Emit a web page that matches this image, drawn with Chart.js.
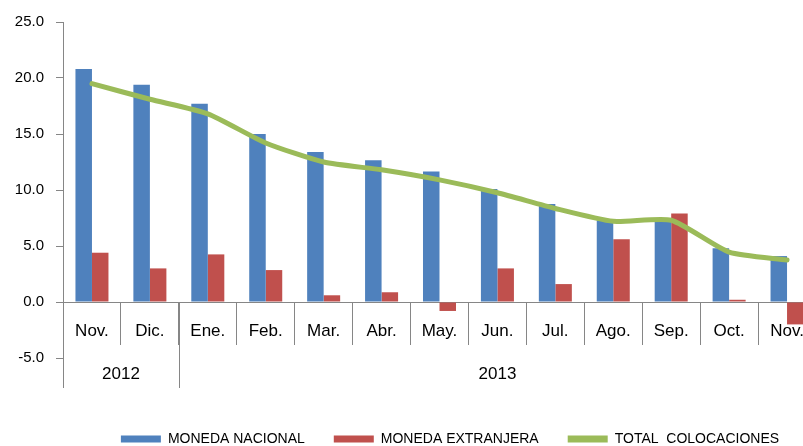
<!DOCTYPE html>
<html>
<head>
<meta charset="utf-8">
<script src="https://cdn.jsdelivr.net/npm/chart.js@4.4.1/dist/chart.umd.min.js"></script>
<style>
  html, body { margin: 0; padding: 0; overflow: hidden; background: #fff; }
  #wrap { position: absolute; left: 0; top: 0; width: 816px; height: 446px; }
  canvas { display: block; }
</style>
</head>
<body>
<div id="wrap"><canvas id="c" width="816" height="446"></canvas></div>
<script>
const months = ['Nov.','Dic.','Ene.','Feb.','Mar.','Abr.','May.','Jun.','Jul.','Ago.','Sep.','Oct.','Nov.'];
const years = ['2012','2013'];
const yearSpans = [2, 11];
const monedaNacional = [20.8, 19.4, 17.7, 15.0, 13.4, 12.65, 11.65, 10.1, 8.75, 7.3, 7.2, 4.8, 4.1];
const monedaExtranjera = [4.4, 3.0, 4.25, 2.85, 0.6, 0.87, -0.8, 3.0, 1.6, 5.6, 7.9, 0.2, -2.0];
const totalColocaciones = [19.5, 18.1, 16.8, 14.2, 12.5, 11.8, 10.9, 9.75, 8.35, 7.2, 7.3, 4.45, 3.75];
const yTicks = [-5, 0, 5, 10, 15, 20, 25];

Chart.defaults.font.family = "'Liberation Sans', Arial, sans-serif";
Chart.defaults.color = '#000';

const axisGray = '#868686';

const yearRow = {
  id: 'yearRow',
  afterDraw(chart) {
    const x = chart.scales.x, y = chart.scales.y;
    const ctx = chart.ctx;
    const half = (x.getPixelForValue(1) - x.getPixelForValue(0)) / 2;
    const y0 = y.getPixelForValue(0);
    const yBottom = y0 + 86;
    ctx.save();
    ctx.strokeStyle = axisGray;
    ctx.lineWidth = 1;
    ctx.fillStyle = '#000';
    ctx.font = "17px 'Liberation Sans', Arial, sans-serif";
    ctx.textAlign = 'center';
    ctx.textBaseline = 'middle';
    let start = 0;
    for (let g = 0; g < years.length; g++) {
      const end = start + yearSpans[g];
      const left = x.getPixelForValue(start) - half;
      const right = x.getPixelForValue(end - 1) + half;
      const lx = Math.round(left) + 0.5;
      ctx.beginPath();
      ctx.moveTo(lx, y0);
      ctx.lineTo(lx, yBottom);
      ctx.stroke();
      ctx.fillText(years[g], (left + right) / 2, y0 + 72);
      start = end;
    }
    ctx.restore();
  }
};

const legendShift = {
  id: 'legendShift',
  afterLayout(chart) {
    if (chart.legend) { chart.legend.left += 10.5; chart.legend.right += 10.5; }
  }
};

new Chart(document.getElementById('c'), {
  data: {
    labels: months,
    datasets: [
      { type: 'bar', label: 'MONEDA NACIONAL', data: monedaNacional, backgroundColor: '#4F81BD', order: 2,
        categoryPercentage: 0.57, barPercentage: 1.0 },
      { type: 'bar', label: 'MONEDA EXTRANJERA', data: monedaExtranjera, backgroundColor: '#C0504D', order: 3,
        categoryPercentage: 0.57, barPercentage: 1.0 },
      { type: 'line', label: 'TOTAL  COLOCACIONES', data: totalColocaciones, borderColor: '#9BBB59', backgroundColor: '#9BBB59',
        borderWidth: 5, pointRadius: 0, tension: 0.2, borderCapStyle: 'round', order: 1 }
    ]
  },
  options: {
    responsive: false,
    animation: false,
    devicePixelRatio: 1,
    layout: { padding: { top: 22, left: 0, right: 0, bottom: -10 } },
    scales: {
      x: {
        type: 'category',
        position: { y: 0 },
        offset: true,
        grid: { offset: true, drawOnChartArea: false, tickLength: 42, color: axisGray, lineWidth: 1 },
        border: { display: true, color: axisGray, width: 1 },
        ticks: { font: { size: 17 }, color: '#000', padding: -23, maxRotation: 0, autoSkip: false }
      },
      y: {
        min: -5, max: 25,
        afterFit: (s) => { s.width = 63; },
        afterBuildTicks: (s) => { s.ticks = yTicks.map(v => ({ value: v })); },
        grid: { drawOnChartArea: false, tickLength: 7, color: axisGray, lineWidth: 1 },
        border: { display: true, color: axisGray, width: 1 },
        ticks: { font: { size: 15 }, color: '#000', padding: 12, callback: (v) => Number(v).toFixed(1) }
      }
    },
    plugins: {
      tooltip: { enabled: false },
      legend: {
        position: 'bottom',
        fullSize: false,
        title: { display: true, text: ' ', color: 'rgba(0,0,0,0)', padding: { top: 30.6, bottom: 0 } },
        labels: {
          boxWidth: 40, boxHeight: 7, padding: 29,
          font: { size: 14 }, color: '#000',
          sort: (a, b) => a.datasetIndex - b.datasetIndex,
          generateLabels: (chart) => Chart.defaults.plugins.legend.labels.generateLabels(chart).map(it => {
            it.lineWidth = 0;
            return it;
          })
        }
      }
    }
  },
  plugins: [yearRow, legendShift]
});
</script>
</body>
</html>
